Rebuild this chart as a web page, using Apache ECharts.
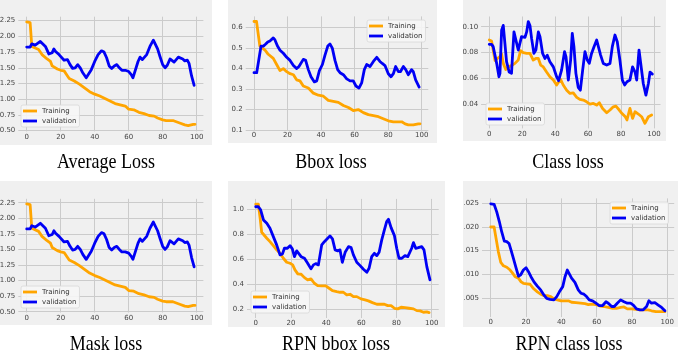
<!DOCTYPE html>
<html>
<head>
<meta charset="utf-8">
<script src="https://cdn.jsdelivr.net/npm/echarts@6/dist/echarts.min.js"></script>
<style>
html,body{margin:0;padding:0;background:#ffffff;}
#chart{width:685px;height:355px;}
</style>
</head>
<body>
<div id="chart"></div>
<script>
// ---------- tick labels ----------
const xTicks = [0, 20, 40, 60, 80, 100];
const avgYTicks = [0.5, 0.75, 1.0, 1.25, 1.5, 1.75, 2.0, 2.25];
const bboxYTicks = [0.1, 0.2, 0.3, 0.4, 0.5, 0.6];
const clsYTicks = [0.04, 0.06, 0.08, 0.10];
const maskYTicks = [0.5, 0.75, 1.0, 1.25, 1.5, 1.75, 2.0, 2.25];
const rbYTicks = [0.2, 0.4, 0.6, 0.8, 1.0];
const rcYTicks = [0.005, 0.010, 0.015, 0.020, 0.025];

// ---------- Average Loss ----------
const avgTrainEpoch = [0,1,2,3,4,7,9,12,14,15,18,20,22,24,25,28,31,34,37,40,43,46,49,52,55,58,60,63,66,69,72,75,77,80,82,86,88,90,93,95,98,99];
const avgTrainLoss = [2.23,2.23,2.22,1.84,1.84,1.79,1.71,1.64,1.60,1.53,1.48,1.46,1.45,1.37,1.33,1.29,1.24,1.18,1.12,1.08,1.05,1.01,0.97,0.93,0.91,0.89,0.84,0.83,0.79,0.77,0.74,0.73,0.70,0.67,0.66,0.66,0.64,0.62,0.59,0.58,0.60,0.60];
const avgValEpoch = [0,2,3,5,6,8,9,11,12,13,15,16,17,19,20,22,23,24,25.5,27,28.5,30,31.5,33,35,36,38,40,42,44,45.5,47,48.5,50,51.5,53,54.5,56,58,60,61.5,62.5,63.5,65.5,66.7,68,69,70.6,72.5,74.5,75.5,77,78.4,80,81.4,82.7,84.3,85.3,86.7,87.8,89.2,90.2,91.8,93,94.5,95.5,97,98.5];
const avgValLoss = [1.83,1.83,1.88,1.86,1.86,1.92,1.90,1.84,1.81,1.72,1.74,1.80,1.76,1.71,1.68,1.62,1.62,1.63,1.55,1.49,1.50,1.55,1.50,1.42,1.34,1.33,1.47,1.60,1.71,1.77,1.75,1.66,1.53,1.49,1.53,1.55,1.50,1.46,1.46,1.44,1.39,1.34,1.36,1.60,1.67,1.63,1.62,1.71,1.84,1.94,1.92,1.80,1.68,1.55,1.50,1.54,1.64,1.66,1.59,1.61,1.67,1.68,1.64,1.61,1.62,1.57,1.37,1.22];

// ---------- Bbox loss ----------
const bboxTrainEpoch = [0,1.5,2,3.5,4.6,6.6,8.5,11.5,13.5,15.5,17.5,19.5,21.5,23.5,25.4,27.4,29.4,32.4,35.4,38.4,41.4,44.3,47.3,50.3,53.3,56.3,59.2,62.2,65.2,68.2,71.2,74.2,77.1,80.1,83.1,86.1,88.1,90.1,92,95,98,99];
const bboxTrainLoss = [0.63,0.63,0.625,0.51,0.51,0.49,0.47,0.45,0.42,0.39,0.40,0.385,0.375,0.37,0.345,0.34,0.315,0.305,0.28,0.27,0.265,0.245,0.24,0.235,0.22,0.21,0.195,0.20,0.185,0.175,0.17,0.165,0.155,0.145,0.14,0.14,0.14,0.13,0.125,0.125,0.13,0.13];
const bboxValEpoch = [0,1.6,2.6,4.2,5.6,7,8.2,9.5,11.5,12.5,14,15.5,17.5,19.5,21.5,23.5,25.5,26.8,29.4,30.8,32.4,34,36,37.4,39,40.8,42.3,44,45.3,46.7,48.3,49.9,51.3,53.3,55.3,57.3,59.2,60.8,62.6,64.2,65.8,67.2,69.2,71.2,73.2,75.1,76.5,78.1,80.1,81.7,83.1,84.5,86.1,87.3,89.1,90.5,92,94,95,96.4,98.5];
const bboxValLoss = [0.38,0.38,0.43,0.51,0.51,0.52,0.53,0.535,0.55,0.54,0.51,0.49,0.475,0.455,0.44,0.415,0.40,0.41,0.445,0.44,0.395,0.36,0.335,0.34,0.39,0.42,0.465,0.51,0.52,0.50,0.44,0.395,0.38,0.37,0.35,0.34,0.34,0.315,0.305,0.33,0.395,0.42,0.41,0.435,0.455,0.435,0.425,0.415,0.375,0.36,0.375,0.41,0.385,0.385,0.41,0.395,0.37,0.395,0.385,0.345,0.31];

// ---------- Class loss ----------
const clsTrainEpoch = [0,1.4,2.4,3.5,4.5,6.5,7.5,8.5,10,11.5,13.5,15.6,17.6,19,20.6,22.7,24.7,26.7,28.3,29.8,31.2,32.8,34.8,36.8,38.9,40.9,41.9,43.3,44.9,47,49,51,53.1,55,57.1,59.1,61.1,63.2,65.2,66.8,68.8,71.3,73.3,75.3,76.9,78.9,80.6,82.6,83.6,85.4,87,88.5,90.5,92.5,94.5,96.6,98.6];
const clsTrainLoss = [0.0897,0.089,0.082,0.074,0.0755,0.077,0.079,0.0717,0.067,0.069,0.070,0.0717,0.0743,0.0815,0.080,0.0794,0.0794,0.0743,0.0755,0.0755,0.0704,0.069,0.065,0.0614,0.0588,0.055,0.0555,0.0594,0.055,0.051,0.0485,0.049,0.0455,0.0439,0.0434,0.042,0.0403,0.0408,0.0395,0.0413,0.0369,0.0336,0.0357,0.0382,0.0387,0.0357,0.033,0.0305,0.028,0.0369,0.0292,0.0344,0.0326,0.0305,0.0254,0.0305,0.0318];
const clsValEpoch = [0,1.4,2.4,4.5,5.9,6.5,7.5,8.5,9.5,10.5,12.1,13.5,15,16.2,17.6,18.6,19.6,20.6,21.7,22.7,23.7,24.7,25.7,27.1,28.3,29.8,30.8,32.4,33.8,35.2,36.8,38.9,40.9,42.1,43.9,45.7,46.6,48,49.4,50.4,51.4,52.6,54,55.3,56.7,58.1,59.5,60.7,62.1,63.6,65.2,66.2,67.6,69.2,71.3,73.3,74.7,76.3,77.7,79.3,80.8,82.2,83.6,85.4,87,88.5,89.5,90.9,92.1,93.5,95.1,96.6,97.6,99];
const clsValLoss = [0.0864,0.0864,0.0846,0.0717,0.0614,0.064,0.0974,0.101,0.0871,0.073,0.065,0.064,0.096,0.0949,0.082,0.0833,0.0923,0.0936,0.0918,0.096,0.104,0.101,0.091,0.0794,0.082,0.096,0.0923,0.0794,0.0755,0.078,0.073,0.069,0.0614,0.0583,0.0665,0.0807,0.0768,0.0588,0.0743,0.0949,0.0846,0.064,0.0532,0.051,0.0665,0.0807,0.0743,0.0717,0.0794,0.0846,0.0897,0.0884,0.0781,0.0717,0.0704,0.0717,0.0846,0.0936,0.0884,0.0743,0.0588,0.055,0.0575,0.0588,0.069,0.065,0.0588,0.082,0.082,0.0562,0.0472,0.0562,0.065,0.0634];

// ---------- Mask loss ----------
const maskTrainEpoch = [0,1,2,3,4,7,9,12,14,15,18,20,22,24,25,28,31,34,37,40,43,46,49,52,55,58,60,63,66,69,72,75,77,80,82,86,88,90,93,95,98,99];
const maskTrainLoss = [2.23,2.23,2.22,1.84,1.84,1.79,1.71,1.64,1.60,1.53,1.48,1.46,1.45,1.37,1.33,1.29,1.24,1.18,1.12,1.08,1.05,1.01,0.97,0.93,0.91,0.89,0.84,0.83,0.79,0.77,0.74,0.73,0.70,0.67,0.66,0.66,0.64,0.62,0.59,0.58,0.60,0.60];
const maskValEpoch = [0,2,3,5,6,8,9,11,12,13,15,16,17,19,20,22,23,24,25.5,27,28.5,30,31.5,33,35,36,38,40,42,44,45.5,47,48.5,50,51.5,53,54.5,56,58,60,61.5,62.5,63.5,65.5,66.7,68,69,70.6,72.5,74.5,75.5,77,78.4,80,81.4,82.7,84.3,85.3,86.7,87.8,89.2,90.2,91.8,93,94.5,95.5,97,98.5];
const maskValLoss = [1.83,1.83,1.88,1.86,1.86,1.92,1.90,1.84,1.81,1.72,1.74,1.80,1.76,1.71,1.68,1.62,1.62,1.63,1.55,1.49,1.50,1.55,1.50,1.42,1.34,1.33,1.47,1.60,1.71,1.77,1.75,1.66,1.53,1.49,1.53,1.55,1.50,1.46,1.46,1.44,1.39,1.34,1.36,1.60,1.67,1.63,1.62,1.71,1.84,1.94,1.92,1.80,1.68,1.55,1.50,1.54,1.64,1.66,1.59,1.61,1.67,1.68,1.64,1.61,1.62,1.57,1.37,1.22];

// ---------- RPN bbox loss ----------
const rbTrainEpoch = [0,1.5,2.5,3.4,4.4,6.3,8.1,10,11.9,13.8,15.7,17.6,19.5,21,22.3,23.9,25.8,27.7,29.5,31.4,33.3,35.2,37.5,39.8,41.7,43.6,46,47.9,49.8,51.7,53.6,55.5,57.4,59.8,62.1,64,66.3,68.8,70.6,73.1,75,76.9,78.8,80.7,82.6,84.8,87.1,89.6,91.5,93.4,95.3,97.2,98.5];
const rbTrainLoss = [1.04,1.04,0.93,0.816,0.80,0.768,0.741,0.709,0.675,0.648,0.608,0.576,0.568,0.555,0.515,0.483,0.48,0.453,0.435,0.443,0.408,0.389,0.387,0.387,0.368,0.349,0.341,0.336,0.336,0.315,0.32,0.301,0.301,0.283,0.275,0.267,0.253,0.24,0.24,0.24,0.229,0.229,0.208,0.203,0.216,0.213,0.208,0.203,0.189,0.187,0.176,0.179,0.173];
const rbValEpoch = [0,1.5,2.8,4.4,6.3,8.1,10,11.9,13.8,15.2,16.3,18,19.5,20.8,22,23.3,24.2,25.8,27.7,29.5,31.4,32.8,34.1,35.6,37.5,39,40.9,42.2,43.6,45.1,46.6,47.9,49.2,50.8,52.7,54.2,55.5,57.4,59.3,61.2,63.1,64.4,65.9,67.4,68.8,70.1,71.6,73.1,74.4,75.4,76.9,78.8,80.1,81.4,83,84.8,86.4,87.3,88.6,89.6,90.9,92.4,94.3,95.6,97.2,99];
const rbValLoss = [1.02,1.02,0.995,0.915,0.888,0.848,0.781,0.715,0.635,0.643,0.688,0.688,0.709,0.683,0.621,0.667,0.675,0.621,0.608,0.568,0.523,0.555,0.565,0.555,0.715,0.741,0.768,0.787,0.763,0.675,0.667,0.675,0.576,0.656,0.701,0.693,0.635,0.576,0.549,0.52,0.496,0.528,0.621,0.648,0.629,0.656,0.755,0.835,0.901,0.92,0.853,0.789,0.688,0.608,0.608,0.629,0.621,0.613,0.688,0.733,0.688,0.693,0.701,0.675,0.541,0.435];

// ---------- RPN class loss ----------
const rcTrainEpoch = [0,1.9,3,4.3,5.7,7.2,9.1,11,12.5,13.8,15.7,17.2,18.5,20.4,22.3,24.2,26.4,28.3,30.2,32.1,34,35.8,37.7,39.8,42.1,44,45.8,48.3,50.9,53.4,55.3,57.2,59.6,61.9,64.2,66.6,69.1,71.3,73.6,75.5,77.4,79.8,82.3,84.5,86.8,89.2,91.1,93.6,95.8,98.7];
const rcTrainLoss = [0.020,0.020,0.0176,0.0148,0.0125,0.0118,0.0115,0.0109,0.0102,0.0095,0.0092,0.0084,0.0081,0.008,0.0079,0.007,0.0063,0.0058,0.0055,0.0055,0.0053,0.0048,0.0046,0.0044,0.0044,0.0044,0.0041,0.004,0.0039,0.0038,0.0036,0.0037,0.0036,0.0033,0.0032,0.003,0.0028,0.0028,0.003,0.0031,0.0027,0.0027,0.0026,0.0025,0.0025,0.0025,0.0023,0.0021,0.0021,0.0021];
const rcValEpoch = [0,1.9,3.4,4.9,6.2,7.7,9.1,10.4,11.5,12.8,14.3,15.7,17,18.5,20,21.3,22.8,24.5,26.4,28.3,30.2,31.7,33.6,35.8,37.4,38.9,40.8,42.1,43.4,44.5,45.8,47.7,49.6,51.1,52.8,54.3,55.8,57.7,59.6,61.5,63.4,65.3,66.6,68.5,70,71.7,73.6,75.5,77.4,79.2,80.8,82.6,84.5,86.4,88.3,89.6,91.1,93,94.9,96.8,98.7];
const rcValLoss = [0.0249,0.0248,0.0232,0.0211,0.019,0.017,0.0169,0.0165,0.0151,0.0134,0.0114,0.0096,0.0099,0.0109,0.0114,0.0106,0.0095,0.0084,0.0075,0.0067,0.0056,0.0049,0.0047,0.0046,0.0053,0.0063,0.0074,0.0095,0.0109,0.0106,0.0092,0.0083,0.0067,0.006,0.0058,0.0053,0.0046,0.0044,0.0039,0.0034,0.0034,0.0042,0.0039,0.0032,0.0032,0.0039,0.0046,0.0042,0.0039,0.0039,0.0035,0.0027,0.0025,0.0025,0.0032,0.0044,0.0039,0.004,0.0035,0.003,0.0023];

const seriesNames = ['Training', 'validation'];
const colors = ['#FFA500', '#0000F5'];

// ---------- layout (positions only) ----------
const panels = [
  {title:'Average Loss', tx:106, ty:163, bg:[0,0,212,145], grid:[18.3,16.7,185.1,114.7], yr:[0.487,2.313], yTicks:avgYTicks, fmt:v=>v.toFixed(2),
   train:[avgTrainEpoch,avgTrainLoss], val:[avgValEpoch,avgValLoss], lg:[21,105]},
  {title:'Bbox loss', tx:331, ty:163, bg:[228,0,209,143], grid:[245.7,16.4,182.6,113.6], yr:[0.10,0.655], yTicks:bboxYTicks, fmt:v=>v.toFixed(1),
   train:[bboxTrainEpoch,bboxTrainLoss], val:[bboxValEpoch,bboxValLoss], lg:[367,20]},
  {title:'Class loss', tx:568, ty:163, bg:[463,0,203,141], grid:[481.1,16.5,179.4,111.9], yr:[0.0215,0.1079], yTicks:clsYTicks, fmt:v=>v.toFixed(2),
   train:[clsTrainEpoch,clsTrainLoss], val:[clsValEpoch,clsValLoss], lg:[486,103]},
  {title:'Mask loss', tx:106, ty:345, bg:[0,181,212,144], grid:[18.3,198.8,185.1,113.7], yr:[0.487,2.313], yTicks:maskYTicks, fmt:v=>v.toFixed(2),
   train:[maskTrainEpoch,maskTrainLoss], val:[maskValEpoch,maskValLoss], lg:[21,286]},
  {title:'RPN bbox loss', tx:336, ty:345, bg:[228,181,217,146], grid:[247,198.9,191.7,119.1], yr:[0.13,1.083], yTicks:rbYTicks, fmt:v=>v.toFixed(1),
   train:[rbTrainEpoch,rbTrainLoss], val:[rbValEpoch,rbValLoss], lg:[251,291]},
  {title:'RPN class loss', tx:569, ty:345, bg:[463,181,215,146], grid:[482,198.4,192.2,118.7], yr:[0.00096,0.02604], yTicks:rcYTicks, fmt:v=>v.toFixed(3).replace(/^0/,''),
   train:[rcTrainEpoch,rcTrainLoss], val:[rcValEpoch,rcValLoss], lg:[610,202]}
];

const zip = (xs, ys) => xs.map((x, i) => [x, ys[i]]);
const tickFont = {fontFamily:'DejaVu Sans', fontSize:7, color:'#444444'};

const option = {
  animation: false,
  backgroundColor: '#ffffff',
  grid: [], xAxis: [], yAxis: [], series: [], legend: [],
  graphic: {elements: []}
};

panels.forEach((p, i) => {
  option.graphic.elements.push({type:'rect', z:-10, silent:true,
    shape:{x:p.bg[0], y:p.bg[1], width:p.bg[2], height:p.bg[3]}, style:{fill:'#f0f0f0'}});
  option.graphic.elements.push({type:'text', silent:true, x:p.tx, y:p.ty, scaleY:1.12,
    style:{text:p.title, font:'18px "Liberation Serif", "Times New Roman", serif', fill:'#000',
      align:'center', verticalAlign:'middle', textAlign:'center', textVerticalAlign:'middle'}});
  option.grid.push({left:p.grid[0], top:p.grid[1], width:p.grid[2], height:p.grid[3], outerBoundsMode:'none', containLabel:false});
  option.xAxis.push({type:'value', gridIndex:i, min:-4.95, max:103.95,
    axisLine:{show:false}, axisTick:{show:false, customValues:xTicks},
    axisLabel:Object.assign({customValues:xTicks, margin:2, hideOverlap:false}, tickFont),
    splitLine:{show:true, lineStyle:{color:'#cbcbcb', width:1}}});
  option.yAxis.push({type:'value', gridIndex:i, min:p.yr[0], max:p.yr[1],
    axisLine:{show:false}, axisTick:{show:false, customValues:p.yTicks},
    axisLabel:Object.assign({customValues:p.yTicks, margin:3, formatter:p.fmt, hideOverlap:false}, tickFont),
    splitLine:{show:true, lineStyle:{color:'#cbcbcb', width:1}}});
  [p.train, p.val].forEach((s, k) => {
    option.series.push({type:'line', name:seriesNames[k], xAxisIndex:i, yAxisIndex:i,
      data: zip(s[0], s[1]), showSymbol:false, symbol:'none', smooth:false,
      color: colors[k], itemStyle:{color:colors[k]},
      lineStyle:{color:colors[k], width:2.8, join:'round', cap:'round'}, z: 3 + k});
  });
  option.legend.push({data:seriesNames, orient:'vertical', left:p.lg[0], top:p.lg[1],
    icon:'rect', itemWidth:14, itemHeight:2.8, itemGap:2, padding:[2,3,2,2],
    backgroundColor:'rgba(246,246,246,0.9)', borderColor:'#d8d8d8', borderWidth:0.8, borderRadius:2,
    selectedMode:false, textStyle:{fontFamily:'DejaVu Sans', fontSize:7, color:'#333333', lineHeight:8}});
});

const chart = echarts.init(document.getElementById('chart'), null, {renderer:'canvas'});
chart.setOption(option);
</script>
</body>
</html>
